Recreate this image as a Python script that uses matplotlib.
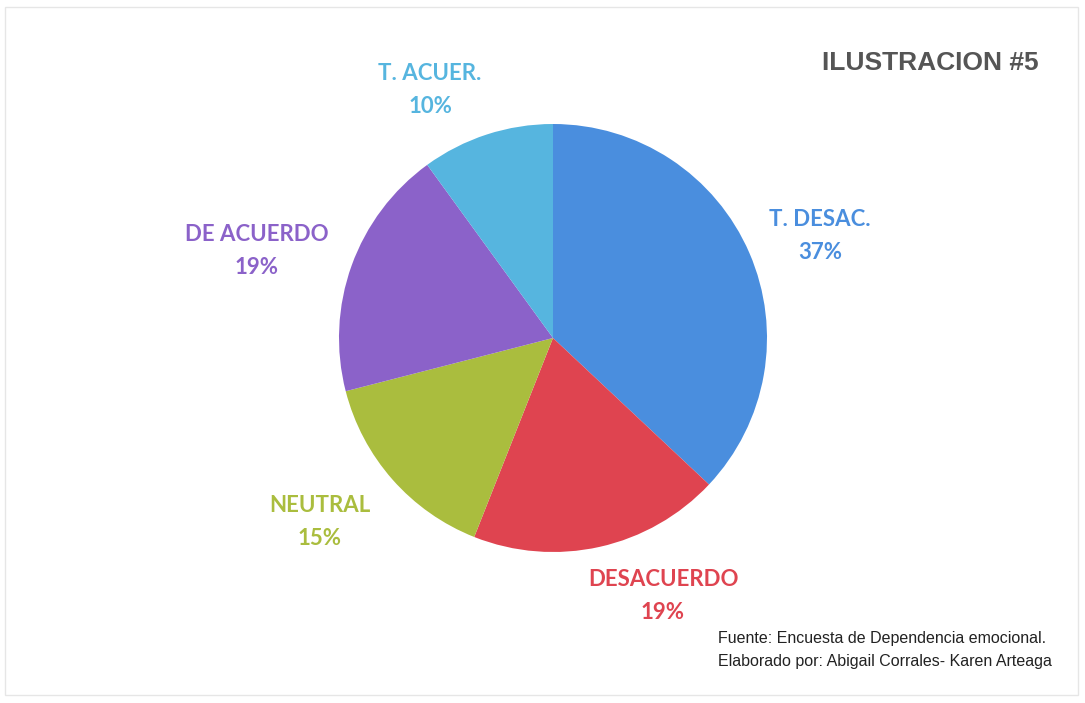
import matplotlib
matplotlib.use("Agg")
import matplotlib.pyplot as plt
from matplotlib.patches import Rectangle

# Data
labels = ["T. DESAC.", "DESACUERDO", "NEUTRAL", "DE ACUERDO", "T. ACUER."]
values = [37, 19, 15, 19, 10]
colors = ["#4a8ede", "#df4450", "#aabd3e", "#8b62c9", "#56b5df"]
# label centres in figure pixels (x, y from top)
label_pos = [(820, 236), (663, 596), (320, 522), (257, 251), (430, 90)]

W, H = 1085, 703
fig = plt.figure(figsize=(W / 100, H / 100), dpi=100)
fig.patch.set_facecolor("white")

# faint scan frame
fig.patches.append(Rectangle((5 / W, 8 / H), 1073 / W, 688 / H, transform=fig.transFigure,
                             fill=False, edgecolor="#e6e6e6", linewidth=1.0))

cx, cy, r = 553, 338, 214
ax = fig.add_axes([(cx - r) / W, (H - cy - r) / H, 2 * r / W, 2 * r / H])
ax.pie(values, colors=colors, startangle=90, counterclock=False, radius=1.0,
       wedgeprops={"linewidth": 0})
ax.set_xlim(-1, 1)
ax.set_ylim(-1, 1)
ax.set_aspect("equal")
ax.axis("off")

lab_font = ["Lato", "DejaVu Sans"]
for lab, val, col, (px, py) in zip(labels, values, colors, label_pos):
    fig.text(px / W, 1 - py / H, f"{lab}\n{val}%", color=col, ha="center", va="center",
             fontsize=16, fontweight="bold", family=lab_font, linespacing=1.65)

fig.text(930 / W, 1 - 63 / H, "ILUSTRACION #5", color="#555555", ha="center", va="center",
         fontsize=19, fontweight="bold", family=["Liberation Sans", "DejaVu Sans"])

fig.text(718 / W, 1 - 650 / H,
         "Fuente: Encuesta de Dependencia emocional.\nElaborado por: Abigail Corrales- Karen Arteaga",
         color="#222222", ha="left", va="center", fontsize=11.5,
         family=["Liberation Sans Narrow", "Liberation Sans", "DejaVu Sans"], linespacing=1.6)

fig.savefig("out.png", dpi=100, facecolor="white")
